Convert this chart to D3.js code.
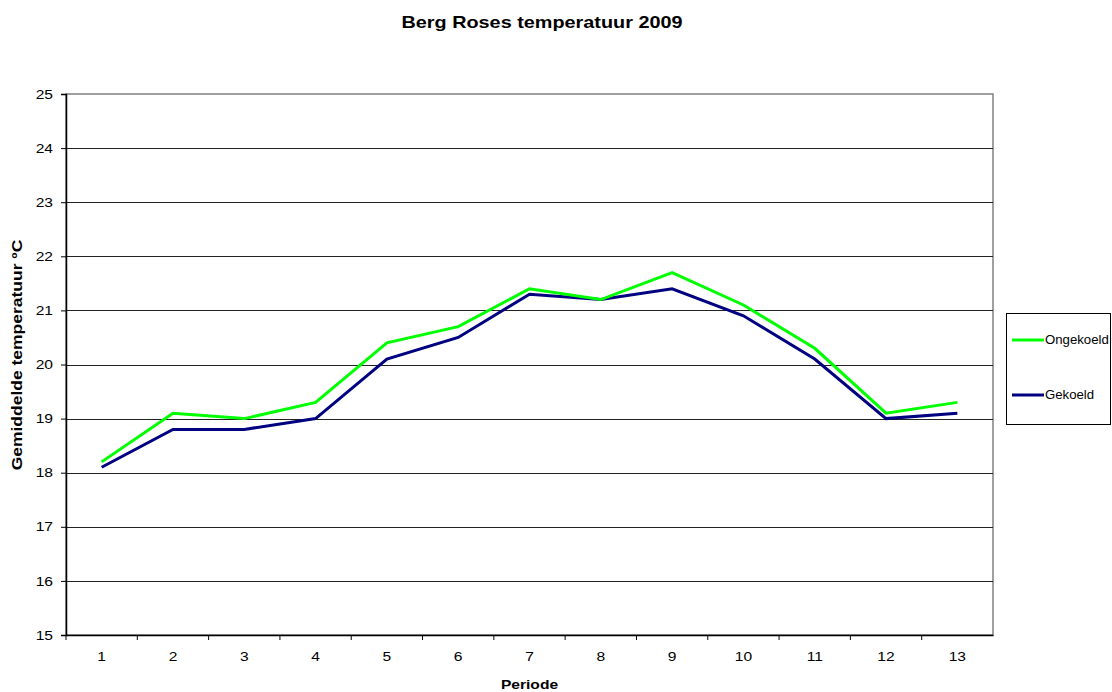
<!DOCTYPE html>
<html>
<head>
<meta charset="utf-8">
<script src="https://cdn.jsdelivr.net/npm/d3@7"></script>
<style>
  body { margin: 0; background: #fff; }
  text { font-family: "Liberation Sans", Arial, sans-serif; }
</style>
</head>
<body>
<div id="chart"></div>
<script>
// data
var periods = ["1", "2", "3", "4", "5", "6", "7", "8", "9", "10", "11", "12", "13"];
var ongekoeld = [18.2, 19.1, 19.0, 19.3, 20.4, 20.7, 21.4, 21.2, 21.7, 21.1, 20.3, 19.1, 19.3];
var gekoeld = [18.1, 18.8, 18.8, 19.0, 20.1, 20.5, 21.3, 21.2, 21.4, 20.9, 20.1, 19.0, 19.1];
var yTicks = [15, 16, 17, 18, 19, 20, 21, 22, 23, 24, 25];

var series = [
    { name: "Ongekoeld", values: ongekoeld, color: "#00ff00" },
    { name: "Gekoeld", values: gekoeld, color: "#000080" }
];

var W = 1112, H = 692;
var margin = { top: 94, right: 119, bottom: 57, left: 66 };
var width = W - margin.left - margin.right;
var height = H - margin.top - margin.bottom;
var stretch = 1.2; // text in the original is a bit wider than Arial

var svg = d3.select("#chart").append("svg")
    .attr("width", W)
    .attr("height", H);

// widen a text element along its baseline, around its anchor
function widen(sel, k) {
    sel.each(function() {
        var t = d3.select(this);
        var tx = +t.attr("x") || 0;
        var prev = t.attr("transform") || "";
        t.attr("transform", prev + " translate(" + tx + ",0) scale(" + k + ",1) translate(" + (-tx) + ",0)");
    });
}

// title
svg.append("text")
    .attr("x", 542)
    .attr("y", 28)
    .attr("text-anchor", "middle")
    .attr("font-size", 16)
    .attr("font-weight", "bold")
    .text("Berg Roses temperatuur 2009")
    .call(widen, 1.24);

var g = svg.append("g")
    .attr("transform", "translate(" + margin.left + "," + margin.top + ")");

var x = d3.scaleBand().domain(periods).range([0, width]);
var y = d3.scaleLinear().domain([15, 25]).range([height, 0]);

// plot frame
g.append("rect")
    .attr("x", 0).attr("y", 0)
    .attr("width", width).attr("height", height)
    .attr("fill", "none")
    .attr("stroke", "#808080")
    .attr("stroke-width", 1.5);

// gridlines
g.selectAll(".grid")
    .data(yTicks.slice(1, -1))
    .enter().append("line")
    .attr("x1", 0).attr("x2", width)
    .attr("y1", d => Math.round(y(d)) + 0.5)
    .attr("y2", d => Math.round(y(d)) + 0.5)
    .attr("stroke", "#222")
    .attr("stroke-width", 1);

// y axis
var yAxis = g.append("g")
    .call(d3.axisLeft(y).tickValues(yTicks).tickSize(5).tickPadding(8).tickFormat(d3.format("d")));
yAxis.select(".domain").attr("stroke", "#000").attr("stroke-width", 1.5);
yAxis.selectAll("text").attr("font-size", 13).attr("fill", "#000")
    .style("font-family", "'Liberation Sans', Arial, sans-serif")
    .call(widen, stretch);

// x axis
var xAxis = g.append("g")
    .attr("transform", "translate(0," + height + ")")
    .call(d3.axisBottom(x).tickSize(0).tickPadding(17));
xAxis.select(".domain").attr("stroke", "#000").attr("stroke-width", 1.5);
xAxis.selectAll("text").attr("font-size", 13).attr("fill", "#000")
    .style("font-family", "'Liberation Sans', Arial, sans-serif")
    .call(widen, stretch);
// category boundary ticks
g.selectAll(".xtick")
    .data(periods)
    .enter().append("line")
    .attr("x1", d => x(d)).attr("x2", d => x(d))
    .attr("y1", height).attr("y2", height + 5)
    .attr("stroke", "#000");

// axis titles
svg.append("text")
    .attr("x", margin.left + width / 2)
    .attr("y", 689)
    .attr("text-anchor", "middle")
    .attr("font-size", 13)
    .attr("font-weight", "bold")
    .text("Periode")
    .call(widen, stretch);

var yTitle = svg.append("g")
    .attr("transform", "translate(22,355) rotate(-90)");
yTitle.append("text")
    .attr("x", 0)
    .attr("text-anchor", "middle")
    .attr("font-size", 14)
    .attr("font-weight", "bold")
    .text("Gemiddelde temperatuur ºC")
    .call(widen, 1.25);

// lines
var line = d3.line()
    .x((d, i) => x(periods[i]) + x.bandwidth() / 2)
    .y(d => y(d));

g.selectAll(".series")
    .data(series.slice().reverse())
    .enter().append("path")
    .attr("d", d => line(d.values))
    .attr("fill", "none")
    .attr("stroke", d => d.color)
    .attr("stroke-width", 3);

// legend
var legend = svg.append("g").attr("transform", "translate(1006,313)");
legend.append("rect")
    .attr("x", 0.5).attr("y", 0.5)
    .attr("width", 104).attr("height", 111)
    .attr("fill", "#fff")
    .attr("stroke", "#000");

series.forEach(function(s, i) {
    var ly = 27 + i * 55;
    legend.append("line")
        .attr("x1", 6).attr("x2", 38)
        .attr("y1", ly).attr("y2", ly)
        .attr("stroke", s.color)
        .attr("stroke-width", 3);
    legend.append("text")
        .attr("x", 39)
        .attr("y", ly + 4)
        .attr("font-size", 12)
        .text(s.name)
        .call(widen, 1.1);
});
</script>
</body>
</html>
